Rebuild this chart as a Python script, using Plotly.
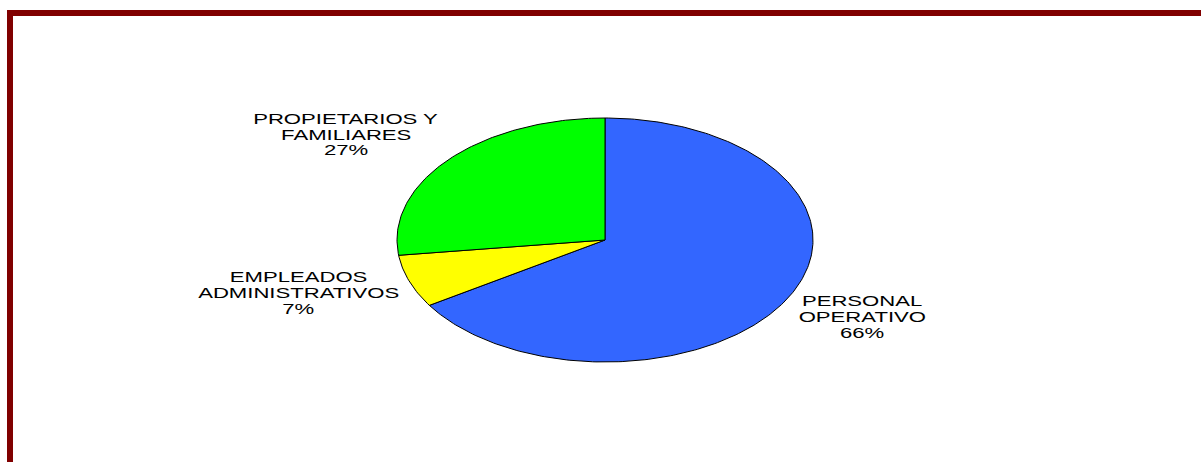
import numpy as np
import plotly.graph_objects as go

# Workforce composition
categories = ["PERSONAL\nOPERATIVO", "EMPLEADOS\nADMINISTRATIVOS", "PROPIETARIOS Y\nFAMILIARES"]
shares = [66, 7, 27]
colors = ["#3366FF", "#FFFF00", "#00FF00"]

W, H = 1201, 462
CX, CY = 605, 240      # pie centre (px from top-left)
RX, RY = 208, 122      # ellipse radii (px)
FONT = dict(family="Liberation Sans, Arial, sans-serif", size=14, color="#000000")
LINE_PITCH = 16
# label block centres: (x, y of first line), px
label_pos = [(862, 300.5), (298, 277), (346, 118.5)]

fig = go.Figure()

# slices run clockwise from 12 o'clock on a unit circle, the axes squash it into an ellipse
total = float(sum(shares))
start = 0.0
for name, v, c in zip(categories, shares, colors):
    end = start + v / total * 2 * np.pi
    t = np.linspace(start, end, max(int(v * 4), 12))
    xs = np.concatenate([[0.0], np.sin(t), [0.0]])
    ys = np.concatenate([[0.0], np.cos(t), [0.0]])
    fig.add_trace(go.Scatter(
        x=xs, y=ys, mode="lines", fill="toself", fillcolor=c,
        line=dict(color="#000000", width=1), hoverinfo="skip",
        showlegend=False, name=name.replace("\n", " "),
    ))
    start = end

# category labels with percentages
annotations = []
for (name, v), (lx, ly) in zip(zip(categories, shares), label_pos):
    lines = name.split("\n") + [f"{v}%"]
    for i, txt in enumerate(lines):
        py = ly + i * LINE_PITCH
        annotations.append(dict(
            text=txt, x=lx / W, y=1 - py / H, xref="paper", yref="paper",
            xanchor="center", yanchor="middle", showarrow=False, font=FONT,
        ))

# maroon frame along the top and left edges
maroon = "#800000"
shapes = [
    dict(type="rect", xref="paper", yref="paper", x0=7 / W, x1=1.0,
         y0=1 - 16 / H, y1=1 - 10 / H, fillcolor=maroon, line=dict(width=0)),
    dict(type="rect", xref="paper", yref="paper", x0=7 / W, x1=13 / W,
         y0=0.0, y1=1 - 10 / H, fillcolor=maroon, line=dict(width=0)),
]

fig.update_layout(
    width=W, height=H, margin=dict(l=0, r=0, t=0, b=0),
    paper_bgcolor="#FFFFFF", plot_bgcolor="#FFFFFF",
    xaxis=dict(range=[-CX / RX, (W - CX) / RX], visible=False, fixedrange=True),
    yaxis=dict(range=[-(H - CY) / RY, CY / RY], visible=False, fixedrange=True),
    annotations=annotations, shapes=shapes, showlegend=False,
)

# widen the label lettering horizontally around each line's centre
stretch_js = """
var gd = document.getElementById('{plot_id}');
gd.querySelectorAll('text.annotation-text').forEach(function(t){
  var cx = parseFloat(t.getAttribute('x')) || 0;
  t.setAttribute('transform', 'translate(' + cx + ',0) scale(1.58,1) translate(' + (-cx) + ',0)');
});
"""

fig.write_html("out.html", config={"displayModeBar": False, "staticPlot": True},
               post_script=stretch_js)
